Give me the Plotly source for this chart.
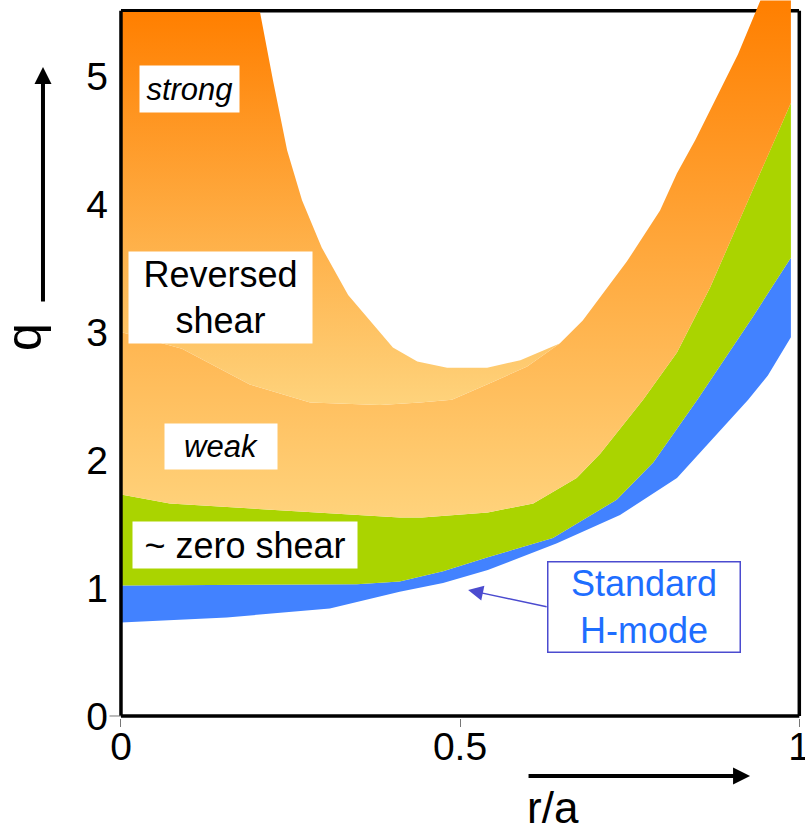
import plotly.graph_objects as go

# ---- data (r/a, q) ----
# lower edge of "Standard H-mode" band
hmode_low_x = [0, 0.156, 0.308, 0.411, 0.475, 0.541, 0.643, 0.736, 0.82, 0.925, 0.954, 0.988]
hmode_low_q = [0.73, 0.77, 0.84, 0.97, 1.04, 1.14, 1.35, 1.57, 1.86, 2.47, 2.66, 2.96]

# boundary between H-mode band and zero-shear band
zero_low_x = [0, 0.348, 0.411, 0.475, 0.541, 0.637, 0.731, 0.785, 0.85, 0.932, 0.988]
zero_low_q = [1.02, 1.03, 1.05, 1.13, 1.24, 1.39, 1.69, 1.98, 2.47, 3.12, 3.58]

# boundary between zero-shear band and reversed shear region
zero_top_x = [0, 0.072, 0.411, 0.444, 0.541, 0.608, 0.672, 0.707, 0.77, 0.82, 0.869, 0.925, 0.988]
zero_top_q = [1.73, 1.66, 1.55, 1.55, 1.59, 1.66, 1.86, 2.05, 2.47, 2.84, 3.35, 4.03, 4.79]

# upper edge of reversed shear region (strong)
strong_x = [0.205, 0.224, 0.245, 0.267, 0.296, 0.335, 0.401, 0.437, 0.481, 0.54, 0.589,
            0.647, 0.681, 0.746, 0.795, 0.82, 0.847, 0.878, 0.91, 0.943]
strong_q = [5.5, 4.97, 4.42, 4.03, 3.66, 3.29, 2.88, 2.77, 2.72, 2.72, 2.78,
            2.91, 3.09, 3.55, 3.95, 4.24, 4.5, 4.83, 5.17, 5.59]

# separation between strong and weak reversed shear
weak_x = [0, 0.09, 0.19, 0.279, 0.382, 0.441, 0.488, 0.544, 0.599, 0.647]
weak_q = [3.0, 2.87, 2.59, 2.45, 2.43, 2.45, 2.47, 2.6, 2.73, 2.91]

q_top_left = 5.5
q_top_right = 5.59
r_edge = 0.988

x_ticks = [0, 0.5, 1]
x_tick_text = ["0", "0.5", "1"]
y_ticks = [0, 1, 2, 3, 4, 5]
y_tick_text = ["0", "1", "2", "3", "4", "5"]

FONT = "Liberation Sans, Arial, sans-serif"

fig = go.Figure()

# H-mode band (blue)
fig.add_trace(go.Scatter(
    x=hmode_low_x + zero_low_x[::-1], y=hmode_low_q + zero_low_q[::-1],
    fill="toself", fillcolor="#4282FF", mode="lines", line=dict(width=0),
    hoverinfo="skip"))

# zero shear band (green)
fig.add_trace(go.Scatter(
    x=zero_low_x + zero_top_x[::-1], y=zero_low_q + zero_top_q[::-1],
    fill="toself", fillcolor="#AAD400", mode="lines", line=dict(width=0),
    hoverinfo="skip"))

# weak reversed shear region (lower orange, includes right arm)
join = strong_x.index(weak_x[-1])
wx = zero_top_x + [r_edge] + strong_x[join:][::-1] + weak_x[:-1][::-1]
wy = zero_top_q + [q_top_right] + strong_q[join:][::-1] + weak_q[:-1][::-1]
fig.add_trace(go.Scatter(
    x=wx, y=wy, fill="toself", mode="lines", line=dict(width=0),
    fillgradient=dict(type="vertical", start=1.55, stop=5.59,
                      colorscale=[[0, "#FFD37C"], [1, "#FF7F00"]]),
    hoverinfo="skip"))

# strong reversed shear region (upper-left orange)
sx = [0] + strong_x[:join + 1] + weak_x[:-1][::-1]
sy = [q_top_left] + strong_q[:join + 1] + weak_q[:-1][::-1]
fig.add_trace(go.Scatter(
    x=sx, y=sy, fill="toself", mode="lines", line=dict(width=0),
    fillgradient=dict(type="vertical", start=2.43, stop=5.5,
                      colorscale=[[0, "#FED37C"], [1, "#FF7F00"]]),
    hoverinfo="skip"))

shapes = [
    dict(type="line", xref="x", yref="y", x0=0, x1=1, y0=5.51, y1=5.51,
         line=dict(color="black", width=3.5), layer="below"),
    dict(type="line", xref="x", yref="y", x0=1.0004, x1=1.0004, y0=0, y1=5.51,
         line=dict(color="black", width=3.5), layer="below"),
    dict(type="line", xref="x", yref="y", x0=0, x1=0, y0=0, y1=5.51,
         line=dict(color="black", width=3.5), layer="above"),
    dict(type="line", xref="x", yref="y", x0=0, x1=1.0004, y0=0, y1=0,
         line=dict(color="black", width=3.5), layer="above"),
]

ann = []
def box(text, x, y, w, h, italic=False, size=36, color="black", border=None):
    d = dict(text=("<i>%s</i>" % text) if italic else text, x=x, y=y, xref="x", yref="y",
             showarrow=False, xanchor="center", yanchor="middle", width=w, height=h,
             bgcolor="white", borderpad=0, align="center", valign="middle",
             font=dict(family=FONT, size=size, color=color))
    if border:
        d.update(bordercolor=border, borderwidth=1.5)
    return d

ann.append(box("strong", 0.101, 4.898, 99, 46, italic=True, size=31))
ann.append(box("Reversed<br>shear", 0.1468, 3.27, 183, 91, size=36))
ann.append(box("weak", 0.1475, 2.105, 112, 45, italic=True, size=31))
ann.append(box("~ zero shear", 0.183, 1.336, 224, 46, size=36))
ann.append(box("Standard<br>H-mode", 0.772, 0.855, 191, 89, size=36,
               color="#1E6EFF", border="#4B4BCF"))

# pointer arrow from Standard H-mode box
ann.append(dict(text="", x=0.512, y=0.984, xref="x", yref="y", ax=80, ay=17,
                showarrow=True, arrowhead=2, arrowsize=2, arrowwidth=1.5,
                arrowcolor="#4B4BCF"))
# q arrow (paper coords, outside the axes)
ann.append(dict(text="", x=-0.1092, y=0.9067, xref="paper", yref="paper", ax=0, ay=236,
                showarrow=True, arrowhead=2, arrowsize=0.85, arrowwidth=4,
                arrowcolor="black"))
# r/a arrow
ann.append(dict(text="", x=0.920, y=-0.0808, xref="paper", yref="paper", ax=-223, ay=0,
                showarrow=True, arrowhead=2, arrowsize=0.85, arrowwidth=4,
                arrowcolor="black"))
# y tick at 0
ann.append(dict(text="", x=0.00437, y=0.00279, xref="paper", yref="paper", ax=-13, ay=0,
                showarrow=True, arrowhead=0, arrowwidth=1, arrowcolor="#777"))
# axis titles
ann.append(dict(text="q", x=-0.137, y=0.5306, xref="paper", yref="paper", showarrow=False,
                textangle=-90, xanchor="center", yanchor="middle",
                font=dict(family=FONT, size=50, color="black")))
ann.append(dict(text="r/a", x=0.6332, y=-0.1253, xref="paper", yref="paper", showarrow=False,
                xanchor="center", yanchor="middle",
                font=dict(family=FONT, size=44, color="black")))

fig.update_layout(
    width=805, height=830, margin=dict(l=118, r=0, t=0, b=112, autoexpand=False),
    plot_bgcolor="white", paper_bgcolor="white", showlegend=False,
    shapes=shapes, annotations=ann,
)
fig.update_xaxes(range=[-0.0044, 1.0088], tickvals=x_ticks, ticktext=x_tick_text,
                 ticks="outside", ticklen=8, tickwidth=1, tickcolor="#777",
                 showgrid=False, zeroline=False, showline=False, automargin=False,
                 ticklabeloverflow="allow", ticklabelstandoff=-14,
                 tickfont=dict(family=FONT, size=39, color="black"))
fig.update_yaxes(range=[-0.0156, 5.594], tickvals=y_ticks, ticktext=y_tick_text,
                 ticks="", showgrid=False, zeroline=False, showline=False, automargin=False,
                 ticklabelstandoff=9,
                 tickfont=dict(family=FONT, size=39, color="black"))

fig.write_html("out.html")
